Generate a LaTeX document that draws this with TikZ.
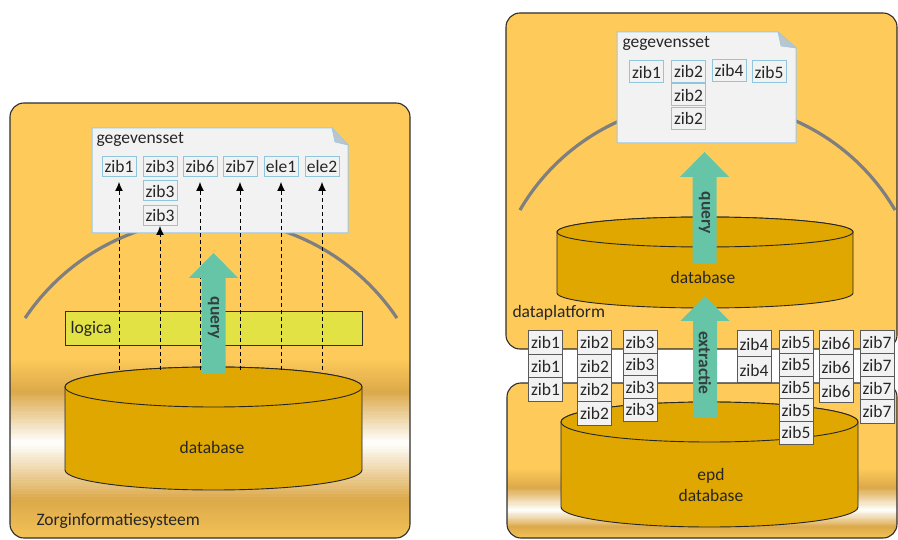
\documentclass[tikz,border=0pt]{standalone}
\usepackage{fontspec}
\setmainfont{Carlito}
\usetikzlibrary{arrows.meta}

\definecolor{panelyellow}{HTML}{FECB5B}
\definecolor{panelbottom}{HTML}{F3C257}
\definecolor{goldband}{HTML}{DCA94A}
\definecolor{paneledge}{HTML}{2E2E2E}
\definecolor{dbfill}{HTML}{DFA700}
\definecolor{logicafill}{HTML}{E2E244}
\definecolor{arrowfill}{HTML}{66C5A6}
\definecolor{arrowtext}{HTML}{33403F}
\definecolor{docfill}{HTML}{F2F2F2}
\definecolor{docline}{HTML}{9CC8E0}
\definecolor{boxline}{HTML}{8FC6DC}
\definecolor{foldgray}{HTML}{BCC4CC}
\definecolor{stackline}{HTML}{5A5A5A}
\definecolor{arcgray}{HTML}{7F7F7F}
\definecolor{textdark}{HTML}{262626}

% horizontal colour band: x0, x1, y0, y1, colour at y0, colour at y1 (20 strips)
\newcommand\band[6]{%
  \foreach \i in {0,...,19}{%
    \pgfmathsetmacro\ya{#3+(#4-#3)*\i/20}%
    \pgfmathsetmacro\yb{#3+(#4-#3)*(\i+1)/20+0.6}%
    \pgfmathsetmacro\pc{100*(\i+0.5)/20}%
    \fill[#6!\pc!#5] (#1,\ya) rectangle (#2,\yb);}}

% cylinder: centre x, x radius, top centre y, y radius, bottom centre y
\newcommand\drum[5]{%
  \filldraw[dbshape] ({#1-#2},{#3}) -- ({#1-#2},{#5})
    arc[start angle=180,end angle=360,x radius=#2pt,y radius=#4pt] -- ({#1+#2},{#3})
    arc[start angle=0,end angle=180,x radius=#2pt,y radius=#4pt] -- cycle;
  \filldraw[dbshape] (#1,#3) ellipse[x radius=#2pt,y radius=#4pt];}

% upward block arrow: centre x, tip y, bottom y
\newcommand\upblock[3]{%
  \fill[arrowfill] ({#1-12},{#3}) -- ({#1-12},{#2+25}) -- ({#1-24.5},{#2+25}) -- (#1,#2)
    -- ({#1+24.5},{#2+25}) -- ({#1+12},{#2+25}) -- ({#1+12},{#3}) -- cycle;}

\begin{document}
\begin{tikzpicture}[x=1pt,y=-1pt,
  font=\fontsize{17.5}{21}\selectfont,
  every node/.style={text=textdark},
  panel/.style={draw=paneledge,line width=1.1pt,rounded corners=14pt},
  dbshape/.style={fill=dbfill,draw=black!85,line width=0.9pt},
  docpaper/.style={fill=docfill,draw=docline,line width=1pt},
  fold/.style={fill=foldgray,draw=docline,line width=0.6pt},
  zibbox/.style={draw=boxline,fill=docfill,line width=1pt,minimum width=34pt,minimum height=20pt,inner sep=0pt},
  stackbox/.style={draw=stackline,fill=docfill,line width=1pt,minimum width=34pt,inner sep=0pt},
  horizon/.style={draw=arcgray,line width=3.2pt},
  pull/.style={draw=black,line width=0.9pt,dash pattern=on 4pt off 3pt,-{Latex[length=9pt,width=8pt]}},
  arrowlabel/.style={rotate=-90,font=\fontsize{17.5}{21}\selectfont\bfseries,text=arrowtext}]

\useasboundingbox (0,0) rectangle (898,540);

% ---------------- Zorginformatiesysteem ----------------
\begin{scope}
  \clip[rounded corners=14pt] (10,103) rectangle (410,538);
  \fill[panelyellow] (10,103) rectangle (410,358.5);
  \band{10}{410}{358}{392}{panelyellow}{goldband}
  \band{10}{410}{392}{443}{goldband}{white}
  \band{10}{410}{443}{500}{white}{goldband}
  \band{10}{410}{500}{538}{goldband}{panelbottom}
\end{scope}
\draw[panel] (10,103) rectangle (410,538);
\draw[horizon] plot[domain=213.9:326.1,samples=80,smooth] ({211+224*cos(\x)},{443+224*sin(\x)});

\node[draw=paneledge,line width=1pt,fill=logicafill,minimum width=297pt,minimum height=34pt,inner sep=0pt] (logica) at (213.5,329) {};
\node[anchor=west] (logicalabel) at (67,329) {logica};

\drum{213.5}{148.5}{387}{20}{470}
\node (dbL) at (212,447) {database};
\coordinate (dbLtop) at (213.5,370);

\node[anchor=west] (zis) at (33,521) {Zorginformatiesysteem};

% gegevensset document
\filldraw[docpaper] (92,128) -- (332,128) -- (348,145) -- (348,233) -- (92,233) -- cycle;
\filldraw[fold] (332,128) -- (348,145) -- (335,142) -- cycle;
\node[anchor=west] (setL) at (93,139) {gegevensset};

\node[zibbox] (l1)  at (119,166.5) {zib1};
\node[zibbox] (l3a) at (160,166.5) {zib3};
\node[zibbox] (l3b) at (160,191)   {zib3};
\node[zibbox] (l3c) at (160,215.5) {zib3};
\node[zibbox] (l6)  at (200,166.5) {zib6};
\node[zibbox] (l7)  at (240,166.5) {zib7};
\node[zibbox] (le1) at (281,166.5) {ele1};
\node[zibbox] (le2) at (322,166.5) {ele2};

\foreach \b in {l1,l6,l7,le1,le2}
  \draw[pull,shorten >=5pt] (\b |- dbLtop) -- (\b.south);
\draw[pull] (l3c |- dbLtop) -- (l3c.south);

\upblock{213.5}{253}{373}
\node[arrowlabel] (qL) at (213.5,318) {query};

% ---------------- dataplatform ----------------
\draw[panel,fill=panelyellow] (506,13) rectangle (897,349);
\draw[horizon] plot[domain=210.2:329.8,samples=80,smooth] ({707.5+217*cos(\x)},{319.2+217*sin(\x)});

\filldraw[docpaper] (617,32) -- (778,32) -- (796,48) -- (796,143) -- (617,143) -- cycle;
\filldraw[fold] (778,32) -- (796,48) -- (781,46) -- cycle;
\node[anchor=west] (setR) at (619,43) {gegevensset};

\node[zibbox,minimum height=22pt] (r1)  at (646.5,72)  {zib1};
\node[zibbox,minimum height=22pt] (r2a) at (688.5,71.5) {zib2};
\node[zibbox,minimum height=22pt] (r2b) at (688.5,95)  {zib2};
\node[zibbox,minimum height=22pt] (r2c) at (688.5,118.5) {zib2};
\node[zibbox,minimum height=22pt] (r4)  at (729,70.5) {zib4};
\node[zibbox,minimum height=22pt] (r5)  at (769,72)  {zib5};

\drum{705}{148}{232}{15}{293}
\node (dbP) at (703,277) {database};
\node[anchor=west] (plat) at (509,313) {dataplatform};

\upblock{704.5}{152}{263}
\node[arrowlabel] (qR) at (704.5,213) {query};

% ---------------- epd ----------------
\begin{scope}
  \clip[rounded corners=14pt] (507,383) rectangle (897,538);
  \fill[panelyellow] (507,383) rectangle (897,468.5);
  \band{507}{897}{468}{488}{panelyellow}{goldband}
  \band{507}{897}{488}{510}{goldband}{white}
  \band{507}{897}{510}{527}{white}{goldband}
  \band{507}{897}{527}{538}{goldband}{panelbottom}
\end{scope}
\draw[panel] (507,383) rectangle (897,538);
\drum{709.5}{148.5}{422}{20}{507}
\node[align=center] (epd) at (711,485) {epd\\database};

\upblock{705}{296}{417}
\node[arrowlabel] (ex) at (705,363) {extractie};

% zib stacks between epd and dataplatform
\foreach \cx/\lbl/\n/\h in {545.5/zib1/3/23.5, 594.5/zib2/4/23.5, 640/zib3/4/22.5,
                           754/zib4/2/26, 796/zib5/5/22.6, 836/zib6/3/24, 877/zib7/4/23}
  \foreach \k in {1,...,\n}
    \node[stackbox,minimum height=\h pt] (s\lbl\k) at (\cx,{331+\h*(\k-0.5)}) {\lbl};

\end{tikzpicture}
\end{document}
